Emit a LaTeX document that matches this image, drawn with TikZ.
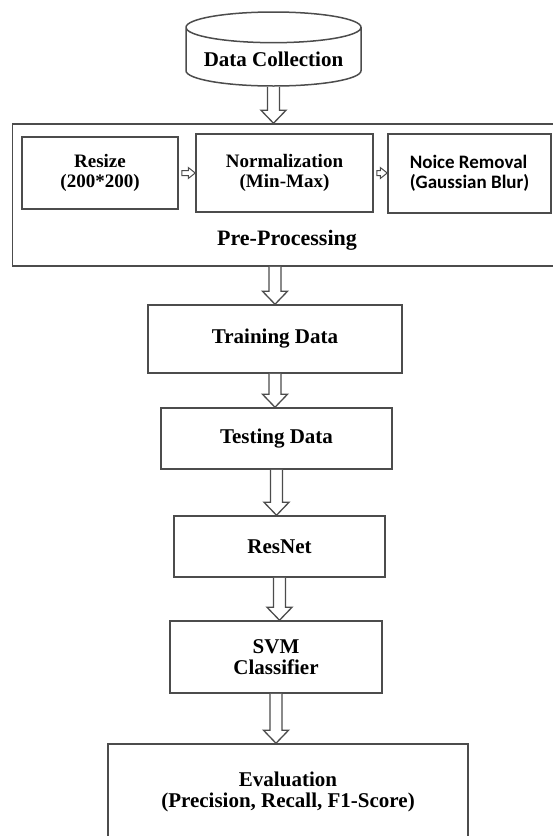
\documentclass[tikz,border=0pt]{standalone}
\usepackage{fontspec}
\setmainfont{Liberation Serif}
\newfontfamily\calibri{Carlito}
\usetikzlibrary{shapes,calc}

% hollow block arrows, from one anchor down (or right) to a node border
\newcommand{\blockdown}[2]{%
  \draw[blockarrow] ($(#1)+(-6,0)$) -- ($(#1 |- #2)+(-6,-13)$) -- ($(#1 |- #2)+(-12.5,-13)$)
    -- (#1 |- #2) -- ($(#1 |- #2)+(12.5,-13)$) -- ($(#1 |- #2)+(6,-13)$) -- ($(#1)+(6,0)$);}
\newcommand{\blockright}[2]{%
  \draw[blockarrow,line width=1pt] ($(#1)+(3,-2.5)$) -- ($(#1 -| #2)+(-7,-2.5)$) -- ($(#1 -| #2)+(-7,-5.5)$)
    -- (#1 -| #2) -- ($(#1 -| #2)+(-7,5.5)$) -- ($(#1 -| #2)+(-7,2.5)$) -- ($(#1)+(3,2.5)$) -- cycle;}

\begin{document}
\begin{tikzpicture}[x=1pt,y=-1pt]
  \tikzstyle{box}=[rectangle,draw=black!70,line width=1.5pt,align=center,
    font=\bfseries\fontsize{21}{21}\selectfont]
  \tikzstyle{inner}=[box,font=\bfseries\fontsize{19}{20}\selectfont]
  \tikzstyle{blockarrow}=[draw=black!70,line width=1.3pt,fill=white,line join=miter]
  \useasboundingbox (0,0) rectangle (553,836);

  \node[box,cylinder,shape border rotate=90,aspect=0.21,minimum width=175pt,
    minimum height=74pt,anchor=shape center] (cyl) at (273.5,49) {Data Collection};

  % pre-processing block
  \node[box,minimum width=548pt,minimum height=142pt] (pre) at (286.5,195) {};
  \node[box,draw=none,font=\bfseries\fontsize{22}{22}\selectfont] (pretitle) at (287,240) {Pre-Processing};
  \node[inner,minimum width=156pt,minimum height=72pt] (resize) at (100,173) {Resize\\(200*200)};
  \node[inner,minimum width=177pt,minimum height=78pt] (norm) at (284.5,173) {Normalization\\(Min-Max)};
  \node[inner,align=left,minimum width=163pt,minimum height=79pt,
    font=\calibri\bfseries\fontsize{19}{20}\selectfont] (noise) at (469.5,173.5) {Noice Removal\\(Gaussian Blur)};

  \node[box,minimum width=254pt,minimum height=68pt] (train) at (275,339) {Training Data};
  \node[box,minimum width=231pt,minimum height=61pt] (test) at (276.5,438.5) {Testing Data};
  \node[box,minimum width=211pt,minimum height=61pt] (resnet) at (279.5,546.5) {ResNet};
  \node[box,minimum width=212pt,minimum height=72pt] (svm) at (276,657) {SVM\\Classifier};
  \node[box,minimum width=360pt,minimum height=96pt] (eval) at (288,792)
    {Evaluation\\(Precision, Recall, F1-Score)};

  \coordinate (preout) at (pre.south -| train.north);
  \blockdown{cyl.south}{pre.north}
  \blockright{resize.east}{norm.west}
  \blockright{norm.east}{noise.west}
  \blockdown{preout}{train.north}
  \blockdown{train.south}{test.north}
  \blockdown{test.south}{resnet.north}
  \blockdown{resnet.south}{svm.north}
  \blockdown{svm.south}{eval.north}
\end{tikzpicture}
\end{document}
